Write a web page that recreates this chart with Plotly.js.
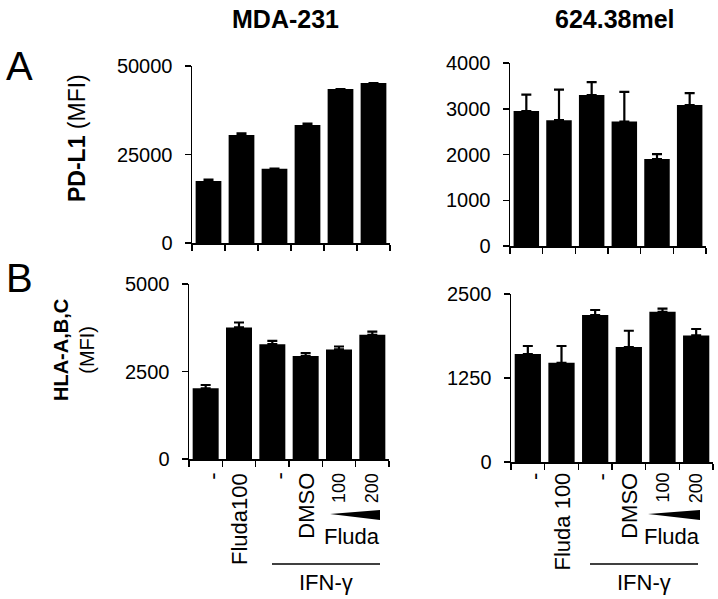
<!DOCTYPE html>
<html>
<head>
<meta charset="utf-8">
<script src="https://cdn.plot.ly/plotly-3.0.1.min.js"></script>
<style>html,body{margin:0;padding:0;background:#fff;}#chart{width:718px;height:599px;}</style>
</head>
<body>
<div id="chart"></div>
<script>
// ---- data ----
const categories = ['-', 'Fluda100', '-', 'DMSO', '100', '200'];
const categoriesMel = ['-', 'Fluda 100', '-', 'DMSO', '100', '200'];
const pdl1MDA = [17500, 30500, 21000, 33300, 43500, 45200];
const pdl1MDAErr = [400, 500, 0, 400, 0, 0];
const pdl1Mel = [2950, 2750, 3300, 2720, 1900, 3080];
const pdl1MelErr = [360, 670, 280, 650, 110, 260];
const hlaMDA = [2020, 3760, 3280, 2940, 3130, 3550];
const hlaMDAErr = [95, 140, 95, 85, 85, 90];
const hlaMel = [1606, 1476, 2187, 1710, 2236, 1884];
const hlaMelErr = [120, 250, 75, 243, 45, 95];
const yTicksPdl1MDA = [0, 25000, 50000];
const yTicksPdl1Mel = [0, 1000, 2000, 3000, 4000];
const yTicksHlaMDA = [0, 2500, 5000];
const yTicksHlaMel = [0, 1250, 2500];

// ---- layout helpers ----
const W = 718, H = 599;
const px = x => x / W;
const py = y => 1 - y / H;
const FONT = 'Arial, "Liberation Sans", Helvetica, sans-serif';
const idx = categories.map((c, i) => i);
const boundaries = [-0.5, 0.5, 1.5, 2.5, 3.5, 4.5, 5.5];

function barTrace(vals, errs, xa, ya) {
  return {
    type: 'bar', x: idx, y: vals, xaxis: xa, yaxis: ya, width: 0.78,
    marker: {color: '#000', line: {width: 0}},
    error_y: {type: 'data', array: errs, arrayminus: errs.map(() => 0), symmetric: false,
              color: '#000', thickness: 2.2, width: 5},
    hoverinfo: 'skip', showlegend: false
  };
}

function xAxis(d0, d1, anchor) {
  return {domain: [px(d0), px(d1)], range: [-0.5, 5.5], anchor: anchor,
    tickmode: 'array', tickvals: boundaries, showticklabels: false,
    ticks: 'outside', ticklen: 6, tickwidth: 1.5, tickcolor: '#000',
    showline: true, linecolor: '#000', linewidth: 1.5,
    showgrid: false, zeroline: false, fixedrange: true};
}
function yAxis(top, bottom, max, tv, anchor) {
  return {domain: [py(bottom), py(top)], range: [0, max], anchor: anchor,
    tickmode: 'array', tickvals: tv, ticktext: tv.map(String),
    ticks: 'outside', ticklen: 6, tickwidth: 1.5, tickcolor: '#000',
    tickfont: {family: FONT, size: 20, color: '#000'}, ticklabelstandoff: 8,
    showline: true, linecolor: '#000', linewidth: 1.5,
    showgrid: false, zeroline: false, fixedrange: true};
}

const data = [
  barTrace(pdl1MDA, pdl1MDAErr, 'x', 'y'),
  barTrace(pdl1Mel, pdl1MelErr, 'x2', 'y2'),
  barTrace(hlaMDA, hlaMDAErr, 'x3', 'y3'),
  barTrace(hlaMel, hlaMelErr, 'x4', 'y4')
];

const ann = [];
function txt(text, x, y, size, opts) {
  ann.push(Object.assign({text: text, x: x, y: y, xref: 'paper', yref: 'paper',
    xanchor: 'center', yanchor: 'middle',
    showarrow: false, font: {family: FONT, size: size, color: '#000'}}, opts || {}));
}
txt('<b>MDA-231</b>', px(285), py(19), 25);
txt('<b>624.38mel</b>', px(615), py(19), 25);
txt('A', px(19), py(66), 40);
txt('B', px(19), py(278), 40);
txt('<b>PD-L1</b> (MFI)', px(77), py(138), 23, {textangle: -90});
txt('<b>HLA-A,B,C</b><br>(MFI)', px(74), py(350), 20, {textangle: -90});

function xLabels(labels, xref, wedgeX0, wedgeX1, lineX0, lineX1) {
  labels.forEach((l, i) => {
    const small = (i >= 4);
    const dash = (l === '-');
    ann.push({text: l, x: dash ? i + 0.2 : i, xref: xref, y: py(471), yref: 'paper', yanchor: 'top',
      xanchor: 'center', textangle: -90, showarrow: false,
      font: {family: FONT, size: small ? 18 : 22, color: '#000'}});
  });
  txt('Fluda', px((wedgeX0 + wedgeX1) / 2 - 2), py(536), 22);
  txt('IFN-γ', px((lineX0 + lineX1) / 2), py(582), 22);
}
xLabels(categories, 'x3', 328, 380, 272, 380);
xLabels(categoriesMel, 'x4', 647, 700, 590, 698);

const shapes = [];
function deco(wx0, wx1, lx0, lx1) {
  shapes.push({type: 'path', xref: 'paper', yref: 'paper',
    path: `M ${px(wx0)},${py(514)} L ${px(wx1)},${py(510)} L ${px(wx1)},${py(520)} Z`,
    fillcolor: '#000', line: {width: 0}});
  shapes.push({type: 'line', xref: 'paper', yref: 'paper',
    x0: px(lx0), x1: px(lx1), y0: py(564), y1: py(564), line: {color: '#000', width: 1.5}});
}
deco(330, 380, 272, 380);
deco(648, 700, 590, 698);

const layout = {
  width: W, height: H, margin: {l: 0, r: 0, t: 0, b: 0},
  paper_bgcolor: '#fff', plot_bgcolor: '#fff', bargap: 0.2,
  font: {family: FONT, color: '#000'},
  xaxis: xAxis(192, 390, 'y'),
  yaxis: yAxis(66, 243, 50000, yTicksPdl1MDA, 'x'),
  xaxis2: xAxis(510, 706, 'y2'),
  yaxis2: yAxis(63, 246, 4000, yTicksPdl1Mel, 'x2'),
  xaxis3: xAxis(189, 389, 'y3'),
  yaxis3: yAxis(284, 459, 5000, yTicksHlaMDA, 'x3'),
  xaxis4: xAxis(511, 713, 'y4'),
  yaxis4: yAxis(294, 462, 2500, yTicksHlaMel, 'x4'),
  annotations: ann, shapes: shapes
};
Plotly.newPlot('chart', data, layout, {staticPlot: true, displayModeBar: false});
</script>
</body>
</html>
